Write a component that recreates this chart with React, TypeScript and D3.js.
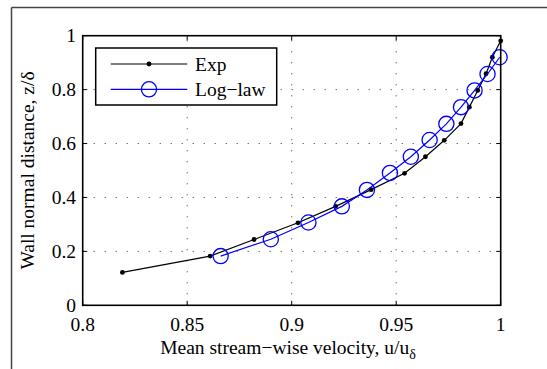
import React from "react";
import * as d3 from "d3";

const expX = [0.819, 0.861, 0.882, 0.903, 0.921, 0.938, 0.954, 0.964, 0.973, 0.981, 0.985, 0.989, 0.993, 0.996, 1.0];
const expY = [0.122, 0.1825, 0.244, 0.306, 0.367, 0.429, 0.4895, 0.551, 0.612, 0.674, 0.735, 0.797, 0.859, 0.92, 0.981];
const logX = [0.866, 0.89, 0.908, 0.924, 0.936, 0.947, 0.957, 0.966, 0.974, 0.981, 0.9875, 0.9937, 0.9995];
const logY = [0.1825, 0.245, 0.307, 0.367, 0.428, 0.491, 0.551, 0.613, 0.673, 0.735, 0.797, 0.858, 0.92];
const xTicks = [0.8, 0.85, 0.9, 0.95, 1];
const xTickLabels = ["0.8", "0.85", "0.9", "0.95", "1"];
const yTicks = [0, 0.2, 0.4, 0.6, 0.8, 1];
const yTickLabels = ["0", "0.2", "0.4", "0.6", "0.8", "1"];
const legendLabels = ["Exp", "Log\u2212law"];

const W = 547, H = 369;
const L = 82.7, R = 500.7, T = 35.7, B = 305.3;
const FONT = "'Liberation Serif', 'Times New Roman', serif";
const FS = 19.5;

export default function App() {
  const x = d3.scaleLinear().domain([0.8, 1]).range([L, R]);
  const y = d3.scaleLinear().domain([0, 1]).range([B, T]);
  const line = d3.line<[number, number]>().x(d => x(d[0])).y(d => y(d[1]));
  const expPts: [number, number][] = expX.map((v, i) => [v, expY[i]]);
  const logPts: [number, number][] = logX.map((v, i) => [v, logY[i]]);
  const tickLen = 4.5;
  const lgX0 = 110.7, lgX1 = 187.3, lgM = 149, lgT = 195;
  const rows = [64, 89.3];
  return (
    <svg width={W} height={H} style={{ position: "absolute", left: 0, top: 0, background: "#fff" }} fontFamily={FONT}>
      <rect x={0} y={0} width={W} height={H} fill="#fff" />
      {/* outer frame */}
      <line x1={11.5} y1={7.5} x2={W} y2={7.5} stroke="#444" strokeWidth={1.5} />
      <line x1={11.5} y1={7.5} x2={11.5} y2={H} stroke="#444" strokeWidth={1.5} />
      {/* grid */}
      {xTicks.filter(t => t > 0.8 && t < 1).map(t => (
        <line key={"gx" + t} x1={x(t)} x2={x(t)} y1={B} y2={T} stroke="#333" strokeWidth={1} strokeDasharray="1,10" />
      ))}
      {yTicks.filter(t => t > 0 && t < 1).map(t => (
        <line key={"gy" + t} x1={L} x2={R} y1={y(t)} y2={y(t)} stroke="#333" strokeWidth={1} strokeDasharray="1,10" />
      ))}
      {/* ticks */}
      {xTicks.map(t => (
        <g key={"tx" + t}>
          <line x1={x(t)} x2={x(t)} y1={B} y2={B - tickLen} stroke="#000" strokeWidth={1} />
          <line x1={x(t)} x2={x(t)} y1={T} y2={T + tickLen} stroke="#000" strokeWidth={1} />
        </g>
      ))}
      {yTicks.map(t => (
        <g key={"ty" + t}>
          <line x1={L} x2={L + tickLen} y1={y(t)} y2={y(t)} stroke="#000" strokeWidth={1} />
          <line x1={R} x2={R - tickLen} y1={y(t)} y2={y(t)} stroke="#000" strokeWidth={1} />
        </g>
      ))}
      {/* data */}
      <path d={line(expPts) || ""} fill="none" stroke="#000" strokeWidth={1.2} />
      {expPts.map((p, i) => (
        <circle key={"e" + i} cx={x(p[0])} cy={y(p[1])} r={2.4} fill="#000" />
      ))}
      <path d={line(logPts) || ""} fill="none" stroke="#0000ff" strokeWidth={1.2} />
      {logPts.map((p, i) => (
        <circle key={"l" + i} cx={x(p[0])} cy={y(p[1])} r={7.6} fill="none" stroke="#0000ff" strokeWidth={1.3} />
      ))}
      {/* axes box */}
      <rect x={L} y={T} width={R - L} height={B - T} fill="none" stroke="#000" strokeWidth={1.6} />
      {/* tick labels */}
      {xTicks.map((t, i) => (
        <text key={"lx" + t} x={x(t)} y={331} textAnchor="middle" fontSize={FS}>{xTickLabels[i]}</text>
      ))}
      {yTicks.map((t, i) => (
        <text key={"ly" + t} x={76} y={y(t) + 6.5} textAnchor="end" fontSize={FS}>{yTickLabels[i]}</text>
      ))}
      {/* axis labels */}
      <text x={288} y={354} textAnchor="middle" fontSize={FS}>
        Mean stream{"\u2212"}wise velocity, u/u<tspan fontSize={14} dy={5}>{"\u03b4"}</tspan>
      </text>
      <text transform={`translate(34,${(T + B) / 2}) rotate(-90)`} textAnchor="middle" fontSize={FS}>
        Wall normal distance, z/{"\u03b4"}
      </text>
      {/* legend */}
      <rect x={95.7} y={48} width={181} height={57} fill="#fff" stroke="#000" strokeWidth={1.5} />
      <line x1={lgX0} x2={lgX1} y1={rows[0]} y2={rows[0]} stroke="#000" strokeWidth={1.2} />
      <circle cx={lgM} cy={rows[0]} r={2.4} fill="#000" />
      <text x={lgT} y={rows[0] + 6.5} fontSize={FS}>{legendLabels[0]}</text>
      <line x1={lgX0} x2={lgX1} y1={rows[1]} y2={rows[1]} stroke="#0000ff" strokeWidth={1.2} />
      <circle cx={lgM} cy={rows[1]} r={7.6} fill="none" stroke="#0000ff" strokeWidth={1.3} />
      <text x={lgT} y={rows[1] + 6.5} fontSize={FS}>{legendLabels[1]}</text>
    </svg>
  );
}
